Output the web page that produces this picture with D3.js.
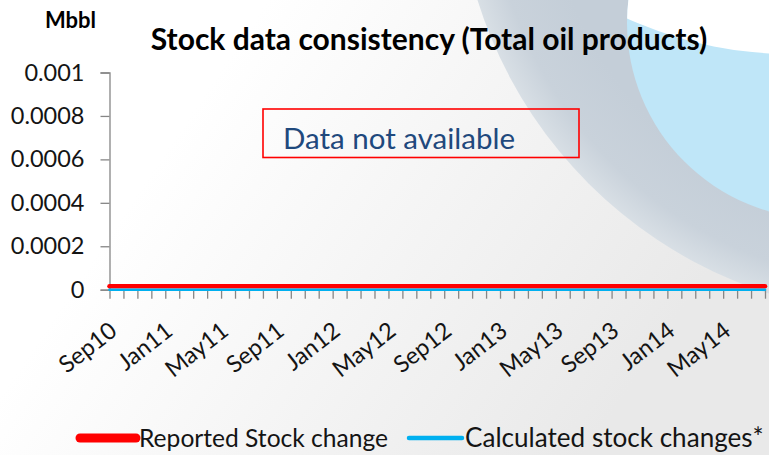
<!DOCTYPE html>
<html>
<head>
<meta charset="utf-8">
<script src="https://cdn.jsdelivr.net/npm/d3@7"></script>
<style>
  html, body { margin: 0; padding: 0; background: #fff; }
  svg { display: block; font-family: Lato, "Open Sans", sans-serif; }
</style>
</head>
<body>
<div id="chart"></div>
<script>
// Stock data consistency - no data, both series flat at zero
const months = [
  'Sep10', 'Oct10', 'Nov10', 'Dec10', 'Jan11', 'Feb11', 'Mar11', 'Apr11', 'May11', 'Jun11', 'Jul11', 'Aug11',
  'Sep11', 'Oct11', 'Nov11', 'Dec11', 'Jan12', 'Feb12', 'Mar12', 'Apr12', 'May12', 'Jun12', 'Jul12', 'Aug12',
  'Sep12', 'Oct12', 'Nov12', 'Dec12', 'Jan13', 'Feb13', 'Mar13', 'Apr13', 'May13', 'Jun13', 'Jul13', 'Aug13',
  'Sep13', 'Oct13', 'Nov13', 'Dec13', 'Jan14', 'Feb14', 'Mar14', 'Apr14', 'May14', 'Jun14', 'Jul14', 'Aug14'
];
const shownLabels = ['Sep10', 'Jan11', 'May11', 'Sep11', 'Jan12', 'May12', 'Sep12', 'Jan13', 'May13', 'Sep13', 'Jan14', 'May14'];

const reportedStockChange = [
  0, 0, 0, 0, 0, 0, 0, 0, 0, 0, 0, 0,
  0, 0, 0, 0, 0, 0, 0, 0, 0, 0, 0, 0,
  0, 0, 0, 0, 0, 0, 0, 0, 0, 0, 0, 0,
  0, 0, 0, 0, 0, 0, 0, 0, 0, 0, 0, 0
];
const calculatedStockChanges = [
  0, 0, 0, 0, 0, 0, 0, 0, 0, 0, 0, 0,
  0, 0, 0, 0, 0, 0, 0, 0, 0, 0, 0, 0,
  0, 0, 0, 0, 0, 0, 0, 0, 0, 0, 0, 0,
  0, 0, 0, 0, 0, 0, 0, 0, 0, 0, 0, 0
];
const yTicks = [0, 0.0002, 0.0004, 0.0006, 0.0008, 0.001];
const yTickLabels = ['0', '0.0002', '0.0004', '0.0006', '0.0008', '0.001'];

const series = [
  { name: 'Reported Stock change', values: reportedStockChange, color: '#ff0000', width: 4.5, lift: -3.4, legendWidth: 9 },
  { name: 'Calculated stock changes*', values: calculatedStockChanges, color: '#00b0f0', width: 2.6, lift: 0, legendWidth: 4.5 }
];

const width = 769, height = 455;
const axisColor = '#868686';
const textColor = '#141414';

const svg = d3.select('#chart').append('svg')
  .attr('width', width)
  .attr('height', height);

// Background: soft grey gradient plus the slide's decorative swoosh
const defs = svg.append('defs');
const bg = defs.append('linearGradient').attr('id', 'bg')
  .attr('x1', '0').attr('y1', '0').attr('x2', '1').attr('y2', '0.4');
bg.append('stop').attr('offset', '0.3').attr('stop-color', '#ffffff');
bg.append('stop').attr('offset', '1').attr('stop-color', '#e9e9e9');

const band = defs.append('radialGradient').attr('id', 'band')
  .attr('gradientUnits', 'userSpaceOnUse')
  .attr('cx', 906).attr('cy', -134).attr('r', 449);
band.append('stop').attr('offset', '0.8').attr('stop-color', '#c4ced8');
band.append('stop').attr('offset', '0.93').attr('stop-color', '#c9d2db');
band.append('stop').attr('offset', '1').attr('stop-color', '#d8dfe5');

defs.append('clipPath').attr('id', 'blueClip')
  .append('circle').attr('cx', 823).attr('cy', 23).attr('r', 196);

svg.append('rect').attr('width', width).attr('height', height).attr('fill', 'url(#bg)');
svg.append('circle').attr('cx', 906).attr('cy', -134).attr('r', 449).attr('fill', 'url(#band)');
svg.append('circle').attr('cx', 823).attr('cy', 23).attr('r', 196).attr('fill', '#bfe6f8');
svg.append('circle').attr('cx', 791).attr('cy', -342).attr('r', 396)
  .attr('fill', '#ffffff').attr('clip-path', 'url(#blueClip)');

// Scales
const x = d3.scalePoint().domain(months).range([109.5, 765]);
const y = d3.scaleLinear().domain([0, 0.001]).range([289.7, 72.5]);

// Y axis
const yAxis = svg.append('g')
  .attr('transform', `translate(${x.range()[0]},0)`)
  .call(d3.axisLeft(y).tickValues(yTicks).tickSize(9).tickPadding(16)
    .tickFormat((d, i) => yTickLabels[i]));
yAxis.select('.domain').attr('stroke', axisColor).attr('stroke-width', 1.3);
yAxis.selectAll('.tick line').attr('stroke', axisColor).attr('stroke-width', 1.3);
yAxis.selectAll('.tick text')
  .attr('font-size', 23.5).attr('font-family', 'Lato, sans-serif').attr('fill', textColor);

// X axis
const xAxis = svg.append('g')
  .attr('transform', `translate(0,${y(0)})`)
  .call(d3.axisBottom(x).tickSize(9).tickSizeOuter(0).tickFormat(() => ''));
xAxis.select('.domain').attr('stroke', axisColor).attr('stroke-width', 1.3);
xAxis.selectAll('.tick line').attr('stroke', axisColor).attr('stroke-width', 1.3);

svg.append('g').selectAll('text')
  .data(shownLabels)
  .join('text')
  .attr('transform', d => `translate(${x(d) + 9},${y(0) + 44}) rotate(-38)`)
  .attr('text-anchor', 'end')
  .attr('font-size', 23.5)
  .attr('fill', textColor)
  .text(d => d);

// Lines
const line = d3.line()
  .x((d, i) => x(months[i]))
  .y(d => y(d));

svg.append('g').selectAll('path')
  .data(series)
  .join('path')
  .attr('d', s => line(s.values))
  // the reported series sits just above the calculated one in the original
  .attr('transform', s => `translate(0,${s.lift})`)
  .attr('fill', 'none')
  .attr('stroke', s => s.color)
  .attr('stroke-width', s => s.width)
  .attr('stroke-linecap', 'round')
  .attr('stroke-linejoin', 'round');

// Title and unit
svg.append('text')
  .attr('x', 429).attr('y', 50)
  .attr('text-anchor', 'middle')
  .attr('font-size', 30).attr('font-weight', 'bold')
  .attr('fill', '#000')
  .text('Stock data consistency (Total oil products)');

svg.append('text')
  .attr('x', 45).attr('y', 28)
  .attr('font-size', 22).attr('font-weight', 'bold')
  .attr('fill', '#000')
  .text('Mbbl');

// "Data not available" note
svg.append('rect')
  .attr('x', 263).attr('y', 109)
  .attr('width', 316).attr('height', 48.5)
  .attr('fill', 'none')
  .attr('stroke', '#ff0000').attr('stroke-width', 1.6);

svg.append('text')
  .attr('x', 283).attr('y', 149)
  .attr('font-size', 29.5)
  .attr('fill', '#1f497d')
  .text('Data not available');

// Legend
const legendItems = [
  { s: series[0], x0: 80, x1: 136, tx: 139, size: 24.6 },
  { s: series[1], x0: 409, x1: 462, tx: 465, size: 26.1 }
];
const legend = svg.append('g');
legendItems.forEach(item => {
  legend.append('line')
    .attr('x1', item.x0).attr('x2', item.x1)
    .attr('y1', 438).attr('y2', 438)
    .attr('stroke', item.s.color)
    .attr('stroke-width', item.s.legendWidth)
    .attr('stroke-linecap', 'round');
  legend.append('text')
    .attr('x', item.tx).attr('y', 447)
    .attr('font-size', item.size)
    .attr('fill', textColor)
    .text(item.s.name);
});
</script>
</body>
</html>
